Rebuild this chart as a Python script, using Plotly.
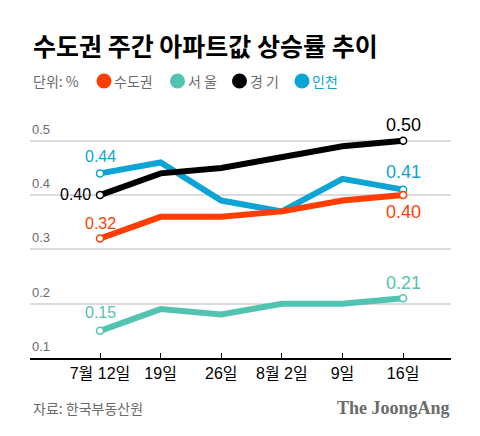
import plotly.graph_objects as go

# ---- data ----
categories = ["7월 12일", "19일", "26일", "8월 2일", "9일", "16일"]
sudogwon = [0.32, 0.36, 0.36, 0.37, 0.39, 0.40]
seoul = [0.15, 0.19, 0.18, 0.20, 0.20, 0.21]
gyeonggi = [0.40, 0.44, 0.45, 0.47, 0.49, 0.50]
incheon = [0.44, 0.46, 0.39, 0.37, 0.43, 0.41]
y_ticks = [0.1, 0.2, 0.3, 0.4, 0.5]
y_tick_labels = ["0.1", "0.2", "0.3", "0.4", "0.5"]

legend_labels = ["수도권", "서 울", "경 기", "인천"]

C_RED = "#ff3d00"
C_TEAL = "#52c3b0"
C_BLACK = "#000000"
C_BLUE = "#0ca4d4"
GRAY = "#6b6b6b"

OFF = 8  # default body margin of the html page
W, H = 480 - OFF, 436 - OFF
ML, MR, MT, MB = 30 - OFF, 29, 114 - OFF, 78
PW, PH = W - ML - MR, H - MT - MB

KR = "Noto Sans CJK KR"
NUM = "Liberation Sans, Noto Sans CJK KR"

def px(x):
    return (x - OFF - ML) / PW

def py(y):
    return (H - MB - (y - OFF)) / PH

x_idx = list(range(len(categories)))

fig = go.Figure()

order = [(seoul, C_TEAL, "서울"), (incheon, C_BLUE, "인천"),
         (gyeonggi, C_BLACK, "경기"), (sudogwon, C_RED, "수도권")]
for vals, color, name in order:
    fig.add_trace(go.Scatter(
        x=x_idx, y=vals, mode="lines", name=name,
        line=dict(color=color, width=6), showlegend=False, hoverinfo="skip"))
for vals, color, name in order:
    fig.add_trace(go.Scatter(
        x=[x_idx[0], x_idx[-1]], y=[vals[0], vals[-1]], mode="markers",
        marker=dict(size=7, color="white", line=dict(color=color, width=1.5)),
        showlegend=False, hoverinfo="skip"))

annotations = []

# y tick labels above gridlines
for v, t in zip(y_ticks, y_tick_labels):
    annotations.append(dict(x=0, xref="paper", y=v, yref="y", text=t,
                            showarrow=False, xanchor="left", yanchor="bottom",
                            yshift=2, font=dict(family=NUM, size=13, color=GRAY)))

# data labels
def lab(xi, v, color, size, xshift=0, yshift=0, xanchor="center"):
    annotations.append(dict(x=xi, y=v, xref="x", yref="y", text=f"{v:.2f}",
                            showarrow=False, xanchor=xanchor, yanchor="middle",
                            xshift=xshift, yshift=yshift,
                            font=dict(family=NUM, size=size, color=color)))

lab(0, incheon[0], C_BLUE, 16, yshift=17)
lab(0, gyeonggi[0], C_BLACK, 16, xshift=-7, yshift=1, xanchor="right")
lab(0, sudogwon[0], C_RED, 16, yshift=15)
lab(0, seoul[0], C_TEAL, 16, yshift=18)
lab(5, gyeonggi[-1], C_BLACK, 18, yshift=16)
lab(5, incheon[-1], C_BLUE, 18, yshift=18)
lab(5, sudogwon[-1], C_RED, 18, yshift=-17)
lab(5, seoul[-1], C_TEAL, 18, yshift=15)

# title
annotations.append(dict(x=px(31), y=py(45), xref="paper", yref="paper",
                        text="<b>수도권 주간 아파트값 상승률 추이</b>", showarrow=False,
                        xanchor="left", yanchor="middle",
                        font=dict(family=KR, size=25, color="#000")))
# unit
annotations.append(dict(x=px(31), y=py(81), xref="paper", yref="paper",
                        text="단위: %", showarrow=False, xanchor="left", yanchor="middle",
                        font=dict(family=KR, size=14, color=GRAY)))

legend_colors = [C_RED, C_TEAL, C_BLACK, C_BLUE]
legend_text_colors = [GRAY, GRAY, GRAY, C_BLUE]
legend_dot_x = [104, 177.5, 239.5, 302]
shapes = []
for lbl, c, tc, dx in zip(legend_labels, legend_colors, legend_text_colors, legend_dot_x):
    r = 7.5
    shapes.append(dict(type="circle", xref="paper", yref="paper",
                       x0=px(dx - r), x1=px(dx + r), y0=py(81 + r), y1=py(81 - r),
                       fillcolor=c, line=dict(width=0)))
    annotations.append(dict(x=px(dx + 8), y=py(81), xref="paper", yref="paper",
                            text=lbl, showarrow=False, xanchor="left", yanchor="middle",
                            font=dict(family=KR, size=14, color=tc)))

# source and logo
annotations.append(dict(x=px(31), y=py(408), xref="paper", yref="paper",
                        text="자료: 한국부동산원", showarrow=False, xanchor="left",
                        yanchor="middle", font=dict(family=KR, size=14, color=GRAY)))
annotations.append(dict(x=px(452), y=py(408), xref="paper", yref="paper",
                        text="<b>The JoongAng</b>", showarrow=False, xanchor="right",
                        yanchor="middle",
                        font=dict(family="Liberation Serif, DejaVu Serif", size=18, color=GRAY)))

fig.update_layout(
    width=W, height=H,
    margin=dict(l=ML, r=MR, t=MT, b=MB, pad=0),
    paper_bgcolor="white", plot_bgcolor="white",
    annotations=annotations, shapes=shapes,
    showlegend=False,
    xaxis=dict(range=[-1.155, 5.79], tickmode="array", tickvals=x_idx,
               ticktext=categories, ticks="inside", ticklen=5, tickwidth=1,
               tickcolor="#000", showgrid=False, zeroline=False,
               showline=True, linecolor="#000", linewidth=1.5,
               tickfont=dict(family=NUM, size=16, color="#000"), fixedrange=True),
    yaxis=dict(range=[0.1, 0.1 + PH / 543], tickvals=y_ticks, showticklabels=False,
               showgrid=True, gridcolor="#dcdcdc", gridwidth=1.5, zeroline=False,
               fixedrange=True),
)

fig.write_html("out.html")
